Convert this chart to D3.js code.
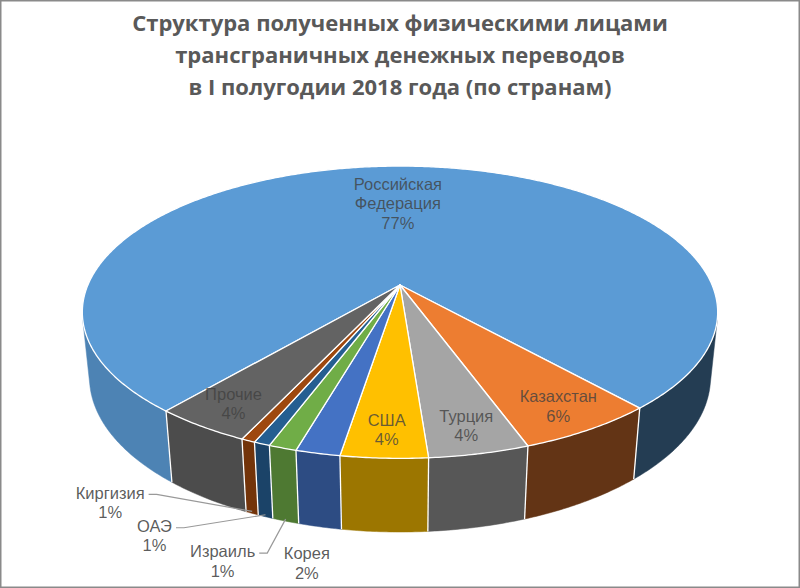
<!DOCTYPE html>
<html>
<head>
<meta charset="utf-8">
<script src="https://cdn.jsdelivr.net/npm/d3@7"></script>
<style>
  body { margin: 0; background: #fff; }
  svg { display: block; }
</style>
</head>
<body>
<div id="chart"></div>
<script>
// data (shares in %, order as in the Excel series)
var categories = ["Российская\nФедерация", "Казахстан", "Турция", "США", "Корея", "Израиль", "ОАЭ", "Киргизия", "Прочие"];
var shares = [77.4, 6.0, 4.3, 3.7, 1.9, 1.2, 0.7, 0.6, 4.2];
var colors = ["#5B9BD5", "#ED7D31", "#A5A5A5", "#FFC000", "#4472C4", "#70AD47", "#255E91", "#9E480E", "#636363"];
var titleLines = ["Структура полученных физическими лицами", "трансграничных денежных переводов", "в I полугодии 2018 года (по странам)"];
var outsideLabels = ["Корея", "Израиль", "ОАЭ", "Киргизия"];

var width = 800, height = 588;

var svg = d3.select("#chart").append("svg")
    .attr("width", width)
    .attr("height", height);

svg.append("rect")
    .attr("x", 0.75).attr("y", 0.75)
    .attr("width", width - 1.5).attr("height", height - 1.5)
    .attr("fill", "#fff")
    .attr("stroke", "#8a8a8a")
    .attr("stroke-width", 1.5);

// title, fitted to the width of the first line
var title = svg.append("g").attr("class", "title");
title.selectAll("text")
    .data(titleLines)
    .join("text")
    .attr("x", width / 2)
    .attr("y", (d, i) => 31 + i * 32)
    .attr("text-anchor", "middle")
    .attr("font-family", "'Open Sans', sans-serif")
    .attr("font-weight", "bold")
    .attr("font-size", 20)
    .attr("fill", "#595959")
    .text(d => d);
var w0 = title.select("text").node().getComputedTextLength();
title.selectAll("text").attr("font-size", 20 * 536 / w0);

// 3d view of the disk
var view = {cx: 400, cy: 285, s: 1495, tilt: Math.asin(0.452), dist: 4.79, h: 0.235};
var sp = Math.sin(view.tilt), cp = Math.cos(view.tilt);

// a: pie angle (0 = back, clockwise), r: radius (1 = rim), z: height
function project(a, r, z) {
    var X = r * Math.sin(a), Y = r * Math.cos(a);
    var yc = Y * sp + z * cp;
    var depth = view.dist + Y * cp - z * sp;
    return [view.cx + view.s * X / depth, view.cy - view.s * yc / depth];
}

function arcPoints(a0, a1, r, z) {
    var n = Math.max(2, Math.ceil(Math.abs(a1 - a0) / (Math.PI / 360)));
    return d3.range(n + 1).map(i => project(a0 + (a1 - a0) * i / n, r, z));
}

var pie = d3.pie()
    .sort(null)
    .value(d => d.share)
    .startAngle(-140 * Math.PI / 180)
    .endAngle(220 * Math.PI / 180);

var rows = categories.map((c, i) => ({name: c, share: shares[i], color: colors[i]}));
var slices = pie(rows);

var line = d3.line();
var shade = d3.scaleLinear().domain([-1, -0.5, 0, 0.5, 1]).range([0.88, 0.76, 0.6, 0.42, 0.38]);

// visible part of the side wall
var k = Math.acos(-1 / (view.dist * cp));
var visible = [[k, 2 * Math.PI - k], [k - 2 * Math.PI, -k]];

var pieces = [];
slices.forEach(function(d) {
    visible.forEach(function(v) {
        var a0 = Math.max(d.startAngle, v[0]), a1 = Math.min(d.endAngle, v[1]);
        if (a1 > a0) pieces.push({a0: a0, a1: a1, d: d});
    });
});

function sideColor(p) {
    var c = d3.rgb(p.d.data.color), f = shade(Math.sin((p.a0 + p.a1) / 2));
    return d3.rgb(c.r * f, c.g * f, c.b * f);
}

var sides = svg.append("g").attr("class", "sides");
sides.selectAll("path")
    .data(pieces)
    .join("path")
    .attr("d", p => line(arcPoints(p.a0, p.a1, 1, 0).concat(arcPoints(p.a1, p.a0, 1, -view.h))) + "Z")
    .attr("fill", sideColor)
    .attr("stroke", sideColor)
    .attr("stroke-width", 0.5);

// white seams on the wall between slices
var seams = slices.map(d => d.startAngle)
    .filter(a => visible.some(v => a > v[0] && a < v[1]));
sides.selectAll("line")
    .data(seams)
    .join("line")
    .attr("x1", a => project(a, 1, 0)[0])
    .attr("y1", a => project(a, 1, 0)[1])
    .attr("x2", a => project(a, 1, -view.h)[0])
    .attr("y2", a => project(a, 1, -view.h)[1])
    .attr("stroke", "#fff")
    .attr("stroke-width", 1.3);

// top faces
svg.append("g").attr("class", "tops")
    .selectAll("path")
    .data(slices)
    .join("path")
    .attr("d", d => line([project(0, 0, 0)].concat(arcPoints(d.startAngle, d.endAngle, 1, 0))) + "Z")
    .attr("fill", d => d.data.color)
    .attr("stroke", "#fff")
    .attr("stroke-width", 1.3)
    .attr("stroke-linejoin", "round");

// labels
var labelFont = "'Liberation Sans', Arial, sans-serif";
var pct = d => Math.round(d.data.share) + "%";
var mid = d => (d.startAngle + d.endAngle) / 2;

var inner = slices.filter(d => outsideLabels.indexOf(d.data.name) < 0);
var innerG = svg.append("g").attr("class", "inner-labels")
    .selectAll("text")
    .data(inner)
    .join("text")
    .attr("font-family", labelFont)
    .attr("font-size", 16.5)
    .attr("fill", "#404040")
    .attr("fill-opacity", 0.78)
    .attr("text-anchor", "middle");

innerG.each(function(d) {
    var lines = d.data.name.split("\n").concat([pct(d)]);
    var p = project(mid(d), d.data.share > 50 ? 0.65 : 0.86, 0);
    var t = d3.select(this);
    lines.forEach(function(l, i) {
        t.append("tspan")
            .attr("x", p[0])
            .attr("y", p[1] + 6 + (i - (lines.length - 1) / 2) * 19.5)
            .text(l);
    });
});

// small slices: labels below the pie with leader lines
var outsideOffset = {"Корея": [-13, 36], "Израиль": [-63, 40], "ОАЭ": [-111, 19], "Киргизия": [-142, -11]};
var leaders = {"Израиль": true, "ОАЭ": true, "Киргизия": true};

var outer = slices.filter(d => outsideLabels.indexOf(d.data.name) >= 0);
var outG = svg.append("g").attr("class", "outer-labels");
outer.forEach(function(d) {
    var anchor = project(mid(d), 1, -view.h);
    var off = outsideOffset[d.data.name];
    var c = [anchor[0] + off[0], anchor[1] + off[1]];
    var t = outG.append("text")
        .attr("font-family", labelFont)
        .attr("font-size", 16.5)
        .attr("fill", "#404040")
        .attr("fill-opacity", 0.85)
        .attr("text-anchor", "middle");
    [d.data.name, pct(d)].forEach(function(l, i) {
        t.append("tspan")
            .attr("x", c[0])
            .attr("y", c[1] + 6 + (i - 0.5) * 19.5)
            .text(l);
    });
    if (leaders[d.data.name]) {
        var tw = t.select("tspan").node().getComputedTextLength();
        var start = [c[0] + tw / 2 + 4, c[1] - 10 + 2];
        outG.append("path")
            .attr("d", line([start, [start[0] + 8, start[1]], [anchor[0], anchor[1] - 2]]))
            .attr("fill", "none")
            .attr("stroke", "#999")
            .attr("stroke-width", 1.2);
    }
});
</script>
</body>
</html>
